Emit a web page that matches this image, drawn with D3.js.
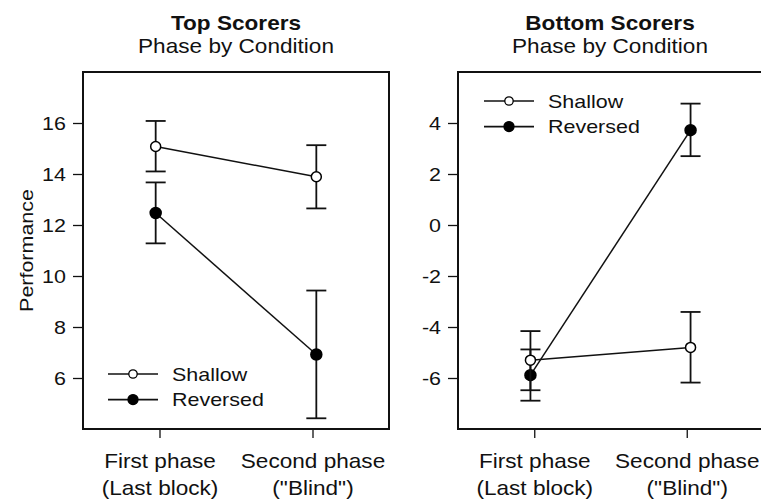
<!DOCTYPE html>
<html>
<head>
<meta charset="utf-8">
<script src="https://cdn.jsdelivr.net/npm/d3@7"></script>
<style>
  body { margin: 0; background: #fff; }
  svg { display: block; font-family: "Liberation Sans", Arial, Helvetica, sans-serif; }
</style>
</head>
<body>
<svg id="chart" width="761" height="499"></svg>
<script>
// phases on the x axis (two lines per label)
const phases = [["First phase", "(Last block)"], ["Second phase", "(\"Blind\")"]];
const conditions = ["Shallow", "Reversed"];

// Top scorers: mean, lower and upper error bar ends
const topShallow = [15.08, 13.89];
const topShallowLo = [14.10, 12.65];
const topShallowHi = [16.08, 15.13];
const topReversed = [12.47, 6.92];
const topReversedLo = [11.28, 4.42];
const topReversedHi = [13.67, 9.43];

// Bottom scorers
const botShallow = [-5.30, -4.80];
const botShallowLo = [-6.48, -6.18];
const botShallowHi = [-4.16, -3.41];
const botReversed = [-5.89, 3.72];
const botReversedLo = [-6.89, 2.70];
const botReversedHi = [-4.88, 4.76];

const topTicks = [6, 8, 10, 12, 14, 16];
const botTicks = [-6, -4, -2, 0, 2, 4];

const svg = d3.select("#chart");
const SX = 1.13; // the lettering in the figure is a bit wide

// text placed at (x, y) and stretched sideways
function label(parent, x, y, str, size, anchor, weight) {
  return parent.append("text")
    .attr("transform", `translate(${x},${y}) scale(${SX},1)`)
    .attr("text-anchor", anchor || "start")
    .attr("font-size", size)
    .attr("font-weight", weight || "normal")
    .attr("fill", "#111")
    .text(str);
}

function series(mean, lo, hi) {
  return mean.map((m, i) => ({ i: i, m: m, lo: lo[i], hi: hi[i] }));
}

const panels = [
  {
    title: "Top Scorers", left: 83, right: 389, domain: [4, 18], ticks: topTicks,
    ylabel: "Performance", titleX: 236,
    data: [series(topShallow, topShallowLo, topShallowHi), series(topReversed, topReversedLo, topReversedHi)],
    legend: { x: 108, y: 374 }
  },
  {
    title: "Bottom Scorers", left: 458, right: 763, domain: [-8, 6], ticks: botTicks,
    ylabel: null, titleX: 610,
    data: [series(botShallow, botShallowLo, botShallowHi), series(botReversed, botReversedLo, botReversedHi)],
    legend: { x: 484, y: 101 }
  }
];

const plotTop = 72, plotBottom = 429;

panels.forEach(p => {
  const g = svg.append("g");
  const x = d3.scaleLinear().domain([0.5, 2.5]).range([p.left, p.right]);
  const y = d3.scaleLinear().domain(p.domain).range([plotBottom, plotTop]);
  // points sit a touch outside the tick positions
  const px = i => x(1.5 + (i + 1 - 1.5) * 1.05);

  // titles
  label(g, p.titleX, 30, p.title, 20, "middle", "bold");
  label(g, p.titleX, 53, "Phase by Condition", 20, "middle");

  // y axis
  const ya = g.append("g").attr("transform", `translate(${p.left - 10},0)`)
    .call(d3.axisLeft(y).tickValues(p.ticks).tickSize(10).tickFormat(""));
  ya.select(".domain").remove();
  ya.selectAll("line").attr("x2", 10).attr("stroke", "#111").attr("stroke-width", 1.3);
  ya.selectAll(".tick").each(function(d) {
    label(d3.select(this), -7, 6.8, String(d), 19, "end");
  });

  // x axis
  const xa = g.append("g").attr("transform", `translate(0,${plotBottom})`)
    .call(d3.axisBottom(x).tickValues([1, 2]).tickSize(9).tickFormat(""));
  xa.select(".domain").remove();
  xa.selectAll("line").attr("stroke", "#111").attr("stroke-width", 1.3);
  xa.selectAll(".tick").each(function(d) {
    label(d3.select(this), 0, 39, phases[d - 1][0], 20, "middle");
    label(d3.select(this), 0, 66, phases[d - 1][1], 20, "middle");
  });

  if (p.ylabel) {
    g.append("text")
      .attr("transform", `translate(33,${(plotTop + plotBottom) / 2}) rotate(-90) scale(${SX},1)`)
      .attr("text-anchor", "middle").attr("font-size", 19).attr("fill", "#111")
      .text(p.ylabel);
  }

  // box
  g.append("rect").attr("x", p.left).attr("y", plotTop)
    .attr("width", p.right - p.left).attr("height", plotBottom - plotTop)
    .attr("fill", "none").attr("stroke", "#111").attr("stroke-width", 2);

  // series (draw reversed first, then shallow on top)
  [1, 0].forEach(k => {
    const s = p.data[k];
    const filled = k === 1;
    const sg = g.append("g");
    sg.append("path").datum(s)
      .attr("d", d3.line().x(d => px(d.i)).y(d => y(d.m)))
      .attr("fill", "none").attr("stroke", "#111").attr("stroke-width", 1.5);
    const eb = sg.selectAll(".eb").data(s).join("g");
    eb.append("line").attr("x1", d => px(d.i)).attr("x2", d => px(d.i))
      .attr("y1", d => y(d.lo)).attr("y2", d => y(d.hi))
      .attr("stroke", "#111").attr("stroke-width", 1.8);
    ["lo", "hi"].forEach(end => {
      eb.append("line").attr("x1", d => px(d.i) - 10).attr("x2", d => px(d.i) + 10)
        .attr("y1", d => y(d[end])).attr("y2", d => y(d[end]))
        .attr("stroke", "#111").attr("stroke-width", 1.8);
    });
    sg.selectAll("circle").data(s).join("circle")
      .attr("cx", d => px(d.i)).attr("cy", d => y(d.m))
      .attr("r", filled ? 5.5 : 5)
      .attr("fill", filled ? "#000" : "#fff")
      .attr("stroke", "#000").attr("stroke-width", 1.5);
  });

  // legend
  const lg = g.append("g").attr("transform", `translate(${p.legend.x},${p.legend.y})`);
  conditions.forEach((c, k) => {
    const row = lg.append("g").attr("transform", `translate(0,${k * 25.6})`);
    row.append("line").attr("x1", 0).attr("x2", 50).attr("stroke", "#111").attr("stroke-width", k ? 1.8 : 1.3);
    row.append("circle").attr("cx", 25).attr("cy", 0).attr("r", k ? 5 : 4.2)
      .attr("fill", k ? "#000" : "#fff").attr("stroke", "#000").attr("stroke-width", 1.3);
    label(row, 64, 6.8, c, 19);
  });
});
</script>
</body>
</html>
